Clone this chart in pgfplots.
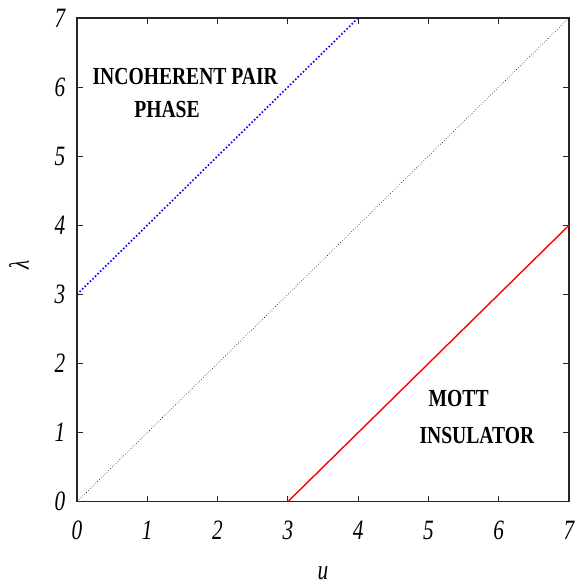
\documentclass[border=0pt]{standalone}
\usepackage{fontspec}
\setmainfont{Liberation Serif}
\newfontfamily\cond[FakeStretch=0.76]{Liberation Serif}
\newfontfamily\condb[FakeStretch=0.8]{Liberation Serif}
\usepackage{pgfplots}
\pgfplotsset{compat=1.18}
\begin{document}
\begin{tikzpicture}
\begin{axis}[
  scale only axis, width=492pt, height=483.7pt,
  xmin=0, xmax=7, ymin=0, ymax=7,
  xtick={0,...,7}, ytick={0,...,7},
  tick align=inside, major tick length=6pt,
  tick style={black!85, line width=0.8pt},
  axis line style={black!85, line width=1.2pt},
  /pgf/number format/assume math mode=true,
  tick label style={font=\cond\itshape\fontsize{28}{30}\selectfont},
  xticklabel style={anchor=center, yshift=-29pt},
  yticklabel style={anchor=center, xshift=-17pt},
  xlabel={\cond\itshape\fontsize{28}{30}\selectfont u},
  ylabel={\cond\itshape\fontsize{28}{30}\selectfont λ},
  ylabel style={rotate=0, anchor=center, at={(axis description cs:-0.118,0.49)}},
  xlabel style={anchor=center, inner sep=0pt, at={(axis description cs:0.5,-0.148)}},
  clip=true,
]
\addplot[blue, dotted, line width=1.6pt] coordinates {(0,3) (4,7)};
\addplot[black, dotted, line width=0.6pt] coordinates {(0,0) (7,7)};
\addplot[red, line width=1.4pt] coordinates {(3,0) (7,4)};
\node[font=\condb\bfseries\fontsize{24.5}{27}\selectfont] at (axis cs:1.54,6.16) {INCOHERENT PAIR};
\node[font=\condb\bfseries\fontsize{24.5}{27}\selectfont] at (axis cs:1.28,5.67) {PHASE};
\node[font=\condb\bfseries\fontsize{24.5}{27}\selectfont] at (axis cs:5.43,1.49) {MOTT};
\node[font=\condb\bfseries\fontsize{24.5}{27}\selectfont] at (axis cs:5.69,0.96) {INSULATOR};
\coordinate (bl) at (rel axis cs:-0.1565,-0.1743);
\coordinate (tr) at (rel axis cs:1.0163,1.0372);
\end{axis}
\pgfresetboundingbox
\path[use as bounding box] (bl) rectangle (tr);
\end{tikzpicture}
\end{document}
